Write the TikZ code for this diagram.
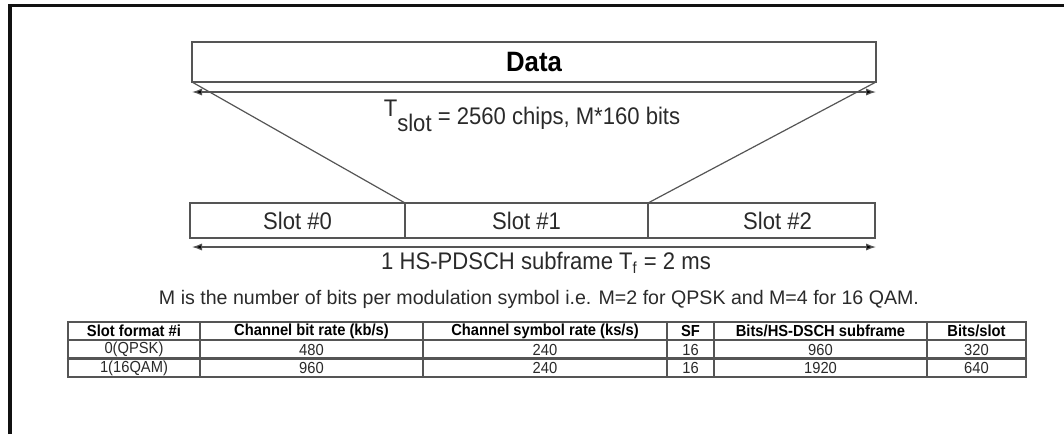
\documentclass[tikz,border=0pt]{standalone}
\usepackage{fontspec}
\setmainfont{Liberation Sans}
\newfontfamily\narrowfont[FakeStretch=0.92]{Liberation Sans}
\usetikzlibrary{arrows.meta,positioning}
\definecolor{frameblk}{HTML}{111111}
\definecolor{rulegray}{HTML}{555555}
\definecolor{inkgray}{HTML}{2A2A2A}

\tikzset{
  boxline/.style={draw=rulegray,line width=0.7pt,inner sep=0pt,outer sep=0pt},
  slotcell/.style={boxline,minimum height=17.5pt,text=inkgray,
    font=\narrowfont\fontsize{12}{14}\selectfont},
  span/.style={rulegray,line width=0.6pt,
    {Latex[length=5pt,width=3.6pt,fill=black]}-{Latex[length=5pt,width=3.6pt,fill=black]}},
  biglabel/.style={text=inkgray,font=\narrowfont\fontsize{12}{14}\selectfont},
  headcell/.style={text=black,font=\narrowfont\bfseries\fontsize{8}{9}\selectfont},
  valcell/.style={text=inkgray,font=\narrowfont\fontsize{8}{9}\selectfont},
}

\begin{document}
\begin{tikzpicture}[x=0.5pt,y=-0.5pt,>=Latex,line cap=round]
  \useasboundingbox (0,0) rectangle (1064,434);
  % frame
  \draw[frameblk,line width=1.6pt,line cap=butt] (10,434) -- (10,5.5) -- (1064,5.5);

  % data block
  \node[boxline,minimum width=342pt,minimum height=20pt,text=black,
        font=\narrowfont\bfseries\fontsize{14}{16}\selectfont] (data) at (534,62) {Data};
  \coordinate (tl) at (192,92);
  \coordinate (tr) at (876,92);
  \draw[span] (tl) -- (tr);
  \node[biglabel] (tslot) at (532,116)
       {\raisebox{0.6ex}{T}\raisebox{-0.6ex}{slot} = 2560 chips, M*160 bits};

  % slots
  \node[slotcell,minimum width=107.5pt] (slot0) at (297.5,220.5) {Slot \#0};
  \node[slotcell,minimum width=121.5pt,right=0pt of slot0] (slot1) {Slot \#1};
  \node[slotcell,minimum width=113.5pt,right=0pt of slot1] (slot2) {\hspace{16pt}Slot \#2};
  \draw[rulegray,line width=0.6pt] (data.south west) -- (slot0.north east);
  \draw[rulegray,line width=0.6pt] (data.south east) -- (slot2.north west);
  \coordinate (bl) at (192,247);
  \coordinate (br) at (876,247);
  \draw[span] (bl) -- (br);
  \node[biglabel] (subframe) at (546,263)
       {1 HS-PDSCH subframe T\textsubscript{f} = 2 ms};

  \node[text=inkgray,font=\fontsize{9.8}{11}\selectfont] (note) at (539,299)
       {M is the number of bits per modulation symbol i.e. M=2 for QPSK and M=4 for 16 QAM.};

  % table
  \draw[rulegray,line width=0.7pt] (68,322) rectangle (1026,377);
  \draw[rulegray,line width=0.6pt] (68,340) -- (1026,340);
  \draw[rulegray,line width=1.1pt] (68,358.5) -- (1026,358.5);
  \foreach \cx in {200,423,667,714,927}
    \draw[rulegray,line width=0.7pt] (\cx,322) -- (\cx,377);
  \foreach \cx/\txt [count=\i] in {134/{Slot format \#i},311.5/{Channel bit rate (kb/s)},
      545/{Channel symbol rate (ks/s)},690.5/{SF},820.5/{Bits/HS-DSCH subframe},976.5/{Bits/slot}}
    \node[headcell] (h\i) at (\cx,331) {\txt};
  \foreach \cx/\txt [count=\i] in {134/0(QPSK),311.5/480,545/240,690.5/16,820.5/960,976.5/320}
    \node[valcell] (a\i) at (\cx,349.5) {\txt};
  \foreach \cx/\txt [count=\i] in {134/1(16QAM),311.5/960,545/240,690.5/16,820.5/1920,976.5/640}
    \node[valcell] (b\i) at (\cx,368) {\txt};
\end{tikzpicture}
\end{document}
